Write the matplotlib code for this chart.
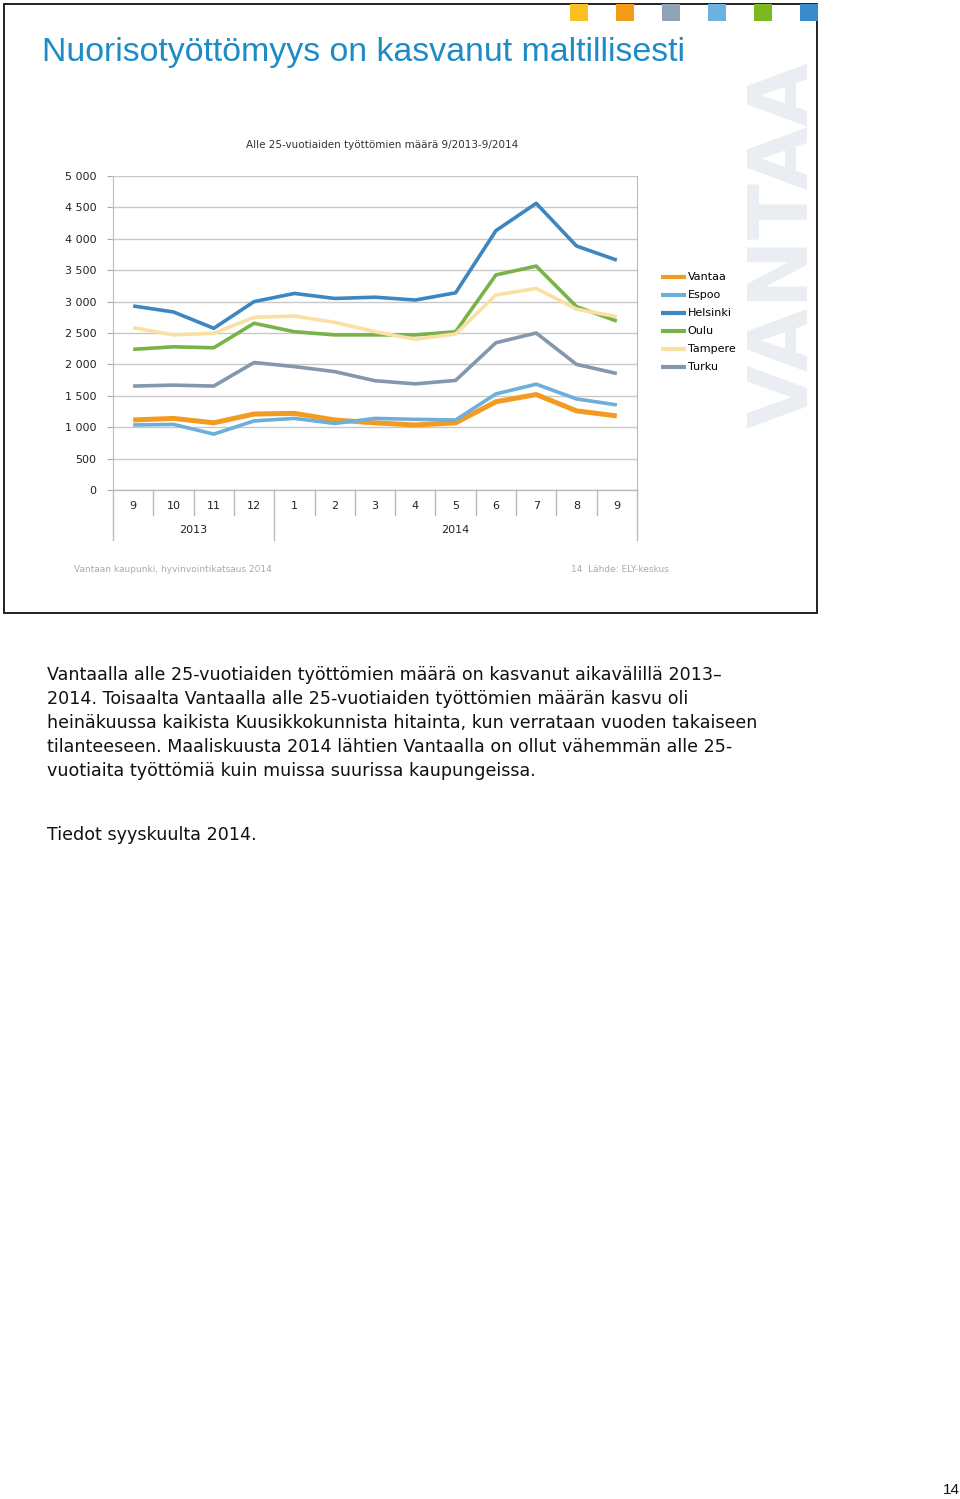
import matplotlib
matplotlib.use('Agg')
import matplotlib.pyplot as plt
import matplotlib.transforms as mtransforms
from matplotlib.patches import Rectangle

# Data: under-25 unemployed, 9/2013 - 9/2014
months = ['9', '10', '11', '12', '1', '2', '3', '4', '5', '6', '7', '8', '9']
years = ['2013', '2014']
year_spans = [(0, 3), (4, 12)]  # month index ranges for each year

vantaa = [1115, 1140, 1070, 1210, 1220, 1115, 1070, 1035, 1070, 1405, 1520, 1260, 1180]
espoo = [1035, 1045, 890, 1100, 1140, 1060, 1140, 1125, 1115, 1530, 1685, 1450, 1355]
helsinki = [2930, 2835, 2575, 3000, 3130, 3050, 3070, 3025, 3140, 4130, 4565, 3885, 3660]
oulu = [2240, 2280, 2265, 2655, 2520, 2470, 2470, 2470, 2520, 3425, 3565, 2920, 2690]
tampere = [2585, 2470, 2495, 2750, 2770, 2670, 2520, 2400, 2485, 3105, 3210, 2880, 2760]
turku = [1655, 1670, 1655, 2030, 1965, 1885, 1740, 1690, 1745, 2345, 2500, 2000, 1855]

series = ['Vantaa', 'Espoo', 'Helsinki', 'Oulu', 'Tampere', 'Turku']
values = [vantaa, espoo, helsinki, oulu, tampere, turku]
colors = ['#F39A21', '#6DAEDB', '#3C87C2', '#78B34A', '#FBE0A3', '#8497AD']
widths = [3.6, 2.6, 2.6, 2.6, 2.6, 2.6]

yticks = [0, 500, 1000, 1500, 2000, 2500, 3000, 3500, 4000, 4500, 5000]
square_colors = ['#F8C022', '#F29C17', '#8FA2B6', '#6DB1E1', '#7CB81F', '#3A8BCB']

body_lines = [
    'Vantaalla alle 25-vuotiaiden työttömien määrä on kasvanut aikavälillä 2013–',
    '2014. Toisaalta Vantaalla alle 25-vuotiaiden työttömien määrän kasvu oli',
    'heinäkuussa kaikista Kuusikkokunnista hitainta, kun verrataan vuoden takaiseen',
    'tilanteeseen. Maaliskuusta 2014 lähtien Vantaalla on ollut vähemmän alle 25-',
    'vuotiaita työttömiä kuin muissa suurissa kaupungeissa.',
]

W, H = 960, 1499
fig = plt.figure(figsize=(W / 100, H / 100), dpi=100)
fig.patch.set_facecolor('white')


def fx(px):
    return px / W


def fy(py):
    return 1 - py / H


# slide frame
fig.patches.append(Rectangle((fx(4), fy(613)), fx(813), 609 / H, transform=fig.transFigure,
                             fill=False, edgecolor='#222222', linewidth=1.4))

# coloured squares along the top
for i, c in enumerate(square_colors):
    x0 = 570 + i * 46
    fig.patches.append(Rectangle((fx(x0), fy(21)), fx(18), 17 / H, transform=fig.transFigure,
                                 facecolor=c, edgecolor='none'))

# VANTAA watermark
fig.text(fx(785), fy(245), 'VANTAA', rotation=90, ha='center', va='center',
         fontsize=59, fontweight='bold', color='#EAEDF1', family='DejaVu Sans')

fig.text(fx(42), fy(53), 'Nuorisotyöttömyys on kasvanut maltillisesti', ha='left', va='center',
         fontsize=24.4, color='#1C8CC6', family='Liberation Sans')

fig.text(fx(382), fy(145), 'Alle 25-vuotiaiden työttömien määrä 9/2013-9/2014', ha='center',
         va='center', fontsize=7.5, color='#333333')

# chart area
ax = fig.add_axes([fx(113), fy(490), fx(637 - 113), 314 / H])
x = list(range(len(months)))
for name, vals, c, lw in zip(series, values, colors, widths):
    ax.plot(x, vals, color=c, linewidth=lw, label=name, solid_capstyle='butt')

ax.set_xlim(-0.5, len(months) - 0.5)
ax.set_ylim(0, 5000)
ax.set_yticks(yticks)
ax.set_yticklabels([f'{v:,}'.replace(',', ' ') for v in yticks], fontsize=8, color='#222222')
ax.grid(axis='y', color='#C8C8C8', linewidth=1)
ax.set_axisbelow(True)
ax.tick_params(axis='y', length=4, color='#AAAAAA', pad=8)
ax.set_xticks([])
for side in ['top', 'bottom']:
    ax.spines[side].set_visible(False)
for side in ['left', 'right']:
    ax.spines[side].set_color('#BBBBBB')

# category axis below the plot
trans = mtransforms.blended_transform_factory(ax.transData, ax.transAxes)
ax.plot([-0.5, len(months) - 0.5], [0, 0], color='#BBBBBB', lw=1, transform=trans, clip_on=False)
for i in range(len(months) + 1):
    edge = i - 0.5
    bottom = -0.16 if i in (0, 4, len(months)) else -0.08
    ax.plot([edge, edge], [0, bottom], color='#BBBBBB', lw=1, transform=trans, clip_on=False)
for i, m in enumerate(months):
    ax.text(i, -0.05, m, transform=trans, ha='center', va='center', fontsize=8, color='#222222')
for yr, (a, b) in zip(years, year_spans):
    ax.text((a + b) / 2, -0.128, yr, transform=trans, ha='center', va='center', fontsize=8,
            color='#222222')

# legend
leg = fig.legend(loc='upper left', bbox_to_anchor=(fx(657), fy(268)), frameon=False,
                 fontsize=8, handlelength=2.2, handletextpad=0.15, labelspacing=0.72,
                 borderaxespad=0)
for line in leg.get_lines():
    line.set_linewidth(3)

fig.text(fx(74), fy(570), 'Vantaan kaupunki, hyvinvointikatsaus 2014', fontsize=6.5,
         color='#AAAAAA', va='center')
fig.text(fx(571), fy(570), '14  Lähde: ELY-keskus', fontsize=6.5, color='#AAAAAA',
         va='center')

# body text
for i, line in enumerate(body_lines):
    fig.text(fx(47), fy(675 + 24 * i), line, fontsize=12.6, family='DejaVu Sans',
             color='#111111', va='center')
fig.text(fx(47), fy(835), 'Tiedot syyskuulta 2014.', fontsize=12.6, family='DejaVu Sans',
         color='#111111', va='center')
fig.text(fx(951), fy(1490), '14', fontsize=11, family='Liberation Sans', color='#111111',
         ha='center', va='center')

fig.savefig('out.png', dpi=100)
